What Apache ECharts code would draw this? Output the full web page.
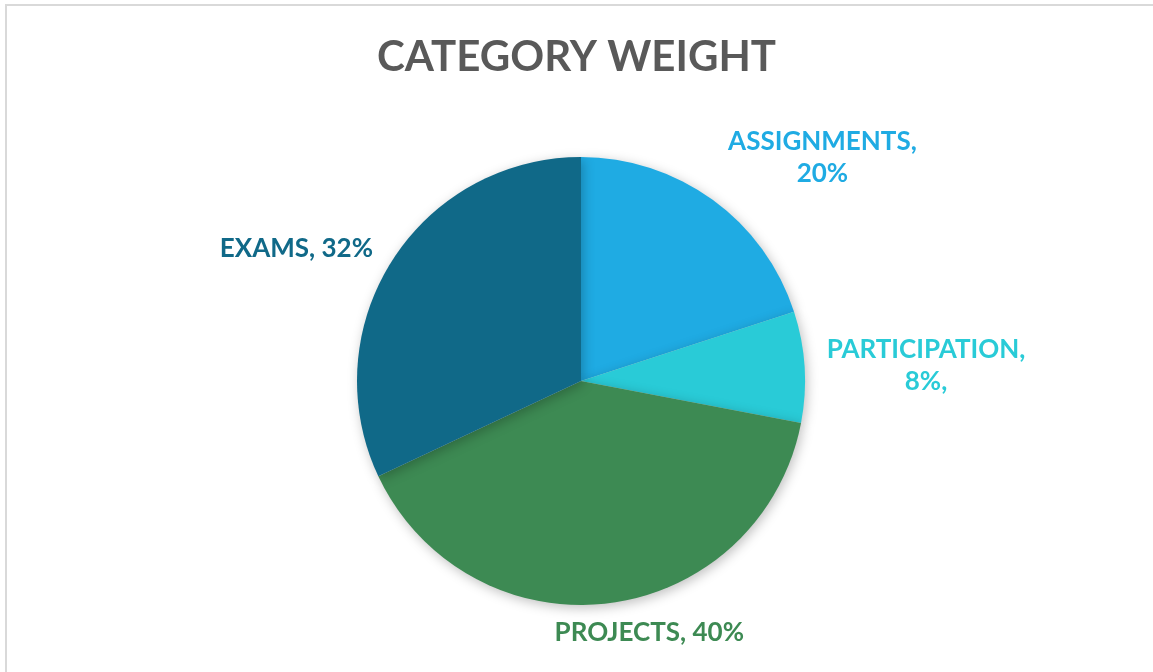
<!DOCTYPE html>
<html>
<head>
<meta charset="utf-8">
<title>Category Weight</title>
<script src="https://cdn.jsdelivr.net/npm/echarts@6/dist/echarts.min.js"></script>
<style>
  html, body { margin: 0; padding: 0; background: #fff; overflow: hidden; }
  #frame {
    position: absolute; left: 5px; top: 4px; width: 1160px; height: 680px;
    border-left: 2px solid #d9d9d9; border-top: 2px solid #d9d9d9;
  }
  #chart { position: absolute; left: 0; top: 0; width: 1153px; height: 672px; }
</style>
</head>
<body>
<div id="frame"></div>
<div id="chart"></div>
<script>
const titleText = "CATEGORY WEIGHT";
const categories = ["ASSIGNMENTS", "PARTICIPATION", "PROJECTS", "EXAMS"];
const weights = [20, 8, 40, 32];
const sliceColors = ["#1fabe3", "#29cbd7", "#3d8a53", "#106988"];
// how each label is broken / punctuated in the original
const labelTemplates = ["{n},\n{p}%", "{n},\n{p}%,", "{n}, {p}%", "{n}, {p}%"];
// label block width (0 = natural) and nudges, to sit like the excel labels
const labelWidths = [190, 205, 0, 0];
const labelNudge = [[-2, -26], [-6, 0], [-62, 10], [3, -2]];

const chart = echarts.init(document.getElementById("chart"));

const seriesData = categories.map((name, i) => {
  const rich = { t: { color: sliceColors[i], fontFamily: "Lato", fontWeight: "bold", fontSize: 26, lineHeight: 32 } };
  if (labelWidths[i]) {
    rich.t.width = labelWidths[i];
    rich.t.align = "center";
  }
  return {
    name: name,
    value: weights[i],
    itemStyle: { color: sliceColors[i] },
    label: {
      color: sliceColors[i],
      rich: rich,
      formatter: (p) => labelTemplates[i]
        .replace("{n}", p.name)
        .replace("{p}", Math.round(p.percent))
        .split("\n")
        .map((line) => "{t|" + line + "}")
        .join("\n"),
    },
  };
});

const option = {
  title: {
    text: titleText,
    left: "center",
    top: 31,
    textStyle: {
      fontFamily: "Lato",
      fontWeight: "bold",
      fontSize: 42,
      color: "#595959",
    },
  },
  series: [
    {
      type: "pie",
      center: [581, 381],
      radius: 224,
      startAngle: 90,
      clockwise: true,
      avoidLabelOverlap: false,
      data: seriesData,
      itemStyle: {
        borderWidth: 0,
        shadowBlur: 12,
        shadowColor: "rgba(0,0,0,0.25)",
        shadowOffsetX: 2,
        shadowOffsetY: 3,
      },
      label: {
        show: true,
        position: "outside",
        fontFamily: "Lato",
        fontWeight: "bold",
        fontSize: 26,
        lineHeight: 32,
      },
      labelLine: { show: false, length: 20, length2: 0 },
      labelLayout: (params) => ({
        dx: labelNudge[params.dataIndex][0],
        dy: labelNudge[params.dataIndex][1],
      }),
      emphasis: { disabled: true },
    },
  ],
};

chart.setOption(option);
</script>
</body>
</html>
